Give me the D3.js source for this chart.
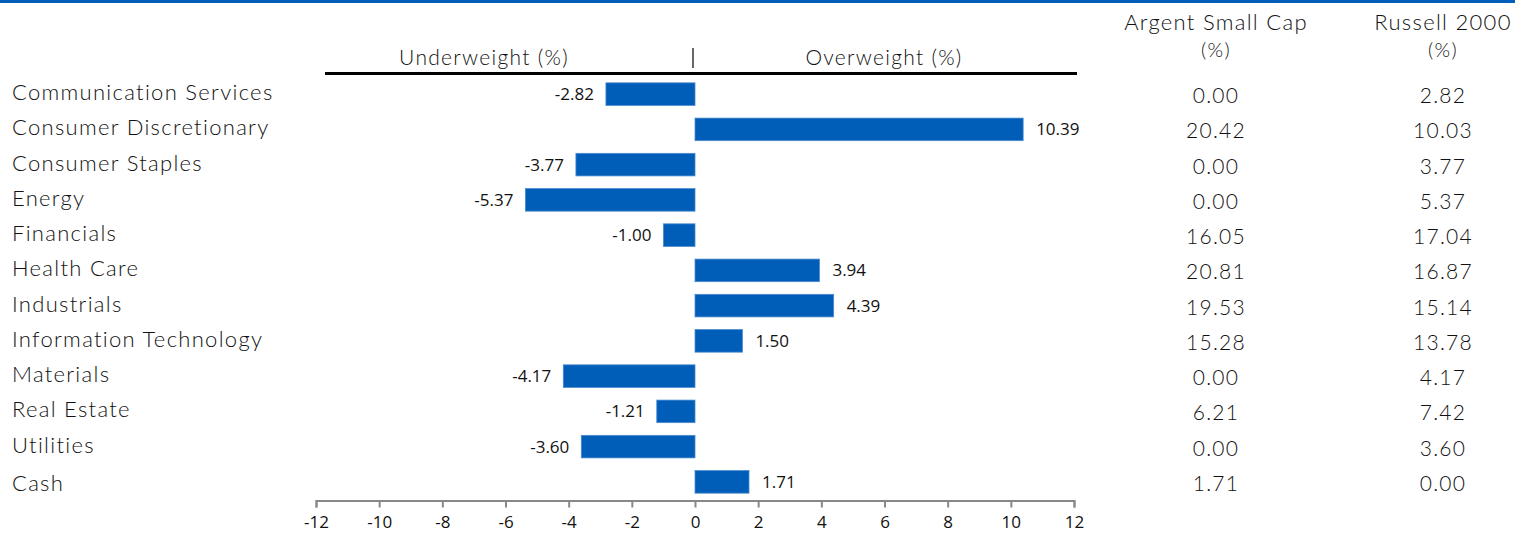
<!DOCTYPE html>
<html><head><meta charset="utf-8">
<script src="https://cdn.jsdelivr.net/npm/d3@7"></script>
<style>body{margin:0;background:#fff}svg{display:block}</style>
</head><body>
<svg id="c" width="1515" height="533"></svg>
<script>
const categories = ["Communication Services","Consumer Discretionary","Consumer Staples","Energy","Financials","Health Care","Industrials","Information Technology","Materials","Real Estate","Utilities","Cash"];
const activeWeights = [-2.82,10.39,-3.77,-5.37,-1.00,3.94,4.39,1.50,-4.17,-1.21,-3.60,1.71];
const argentWeights = ["0.00","20.42","0.00","0.00","16.05","20.81","19.53","15.28","0.00","6.21","0.00","1.71"];
const russellWeights = ["2.82","10.03","3.77","5.37","17.04","16.87","15.14","13.78","4.17","7.42","3.60","0.00"];
const tickValues = [-12,-10,-8,-6,-4,-2,0,2,4,6,8,10,12];

const svg = d3.select("#c");
const blue = "#005EB8";
const labelFont = "Lato, 'Open Sans', sans-serif";
const numFont = "'Open Sans', 'Liberation Sans', sans-serif";

svg.append("rect").attr("x",0).attr("y",0).attr("width",1515).attr("height",3).attr("fill",blue);

const x = d3.scaleLinear().domain([-12,12]).range([316,1074]);
const y = d3.scaleBand().domain(categories).range([76.5,499.5]).paddingInner(0.36).paddingOuter(0.18);

function lbl(sel, size){
  return sel.attr("font-family",labelFont).attr("font-weight",300).attr("font-size",size)
    .attr("letter-spacing",1.3).attr("fill","#111");
}

// header
svg.append("line").attr("x1",325).attr("x2",1077).attr("y1",73.5).attr("y2",73.5).attr("stroke","#000").attr("stroke-width",3);
svg.append("line").attr("x1",x(0)-2).attr("x2",x(0)-2).attr("y1",48).attr("y2",68).attr("stroke","#000").attr("stroke-width",1.2);
lbl(svg.append("text").attr("x",484).attr("y",65).attr("text-anchor","middle"),21).text("Underweight (%)");
lbl(svg.append("text").attr("x",884).attr("y",65).attr("text-anchor","middle"),21).text("Overweight (%)");

// column headers
const cols = [{cx:1216, h:"Argent Small Cap", vals:argentWeights},{cx:1443, h:"Russell 2000", vals:russellWeights}];
cols.forEach(c=>{
  lbl(svg.append("text").attr("x",c.cx).attr("y",30).attr("text-anchor","middle"),22).text(c.h);
  lbl(svg.append("text").attr("x",c.cx).attr("y",57).attr("text-anchor","middle"),20).text("(%)");
  lbl(svg.selectAll(null).data(categories).enter().append("text")
    .attr("x",c.cx).attr("y",(d,i)=>y(d)+y.bandwidth()/2+9)
    .attr("text-anchor","middle"),21)
    .text((d,i)=>c.vals[i]);
});

// category labels
lbl(svg.selectAll(".cat").data(categories).enter().append("text")
  .attr("x",12).attr("y",(d,i)=>y(d)+y.bandwidth()/2+(i===categories.length-1?9:6)),22)
  .text(d=>d);

// bars
svg.selectAll(".bar").data(activeWeights).enter().append("rect")
  .attr("x",d=>x(Math.min(0,d))).attr("width",d=>Math.abs(x(d)-x(0)))
  .attr("y",(d,i)=>y(categories[i])).attr("height",y.bandwidth())
  .attr("fill",blue).attr("stroke","#4a8ad0").attr("stroke-width",0.8);

svg.selectAll(".bl").data(activeWeights).enter().append("text")
  .attr("x",d=>d<0? x(d)-12 : x(d)+13)
  .attr("y",(d,i)=>y(categories[i])+y.bandwidth()/2+6)
  .attr("text-anchor",d=>d<0?"end":"start")
  .attr("font-family",numFont).attr("font-size",17).attr("fill","#111")
  .text(d=>d.toFixed(2));

// axis
const ax = svg.append("g").attr("transform","translate(0,500.5)")
  .call(d3.axisBottom(x).tickValues(tickValues).tickSize(7).tickPadding(8).tickFormat(d=>String(d)));
ax.select(".domain").attr("stroke","#888").attr("stroke-width",2);
ax.selectAll(".tick line").attr("stroke","#888").attr("stroke-width",2);
ax.selectAll(".tick text").attr("font-family",numFont).attr("font-size",17).attr("fill","#111");
</script>
</body></html>
